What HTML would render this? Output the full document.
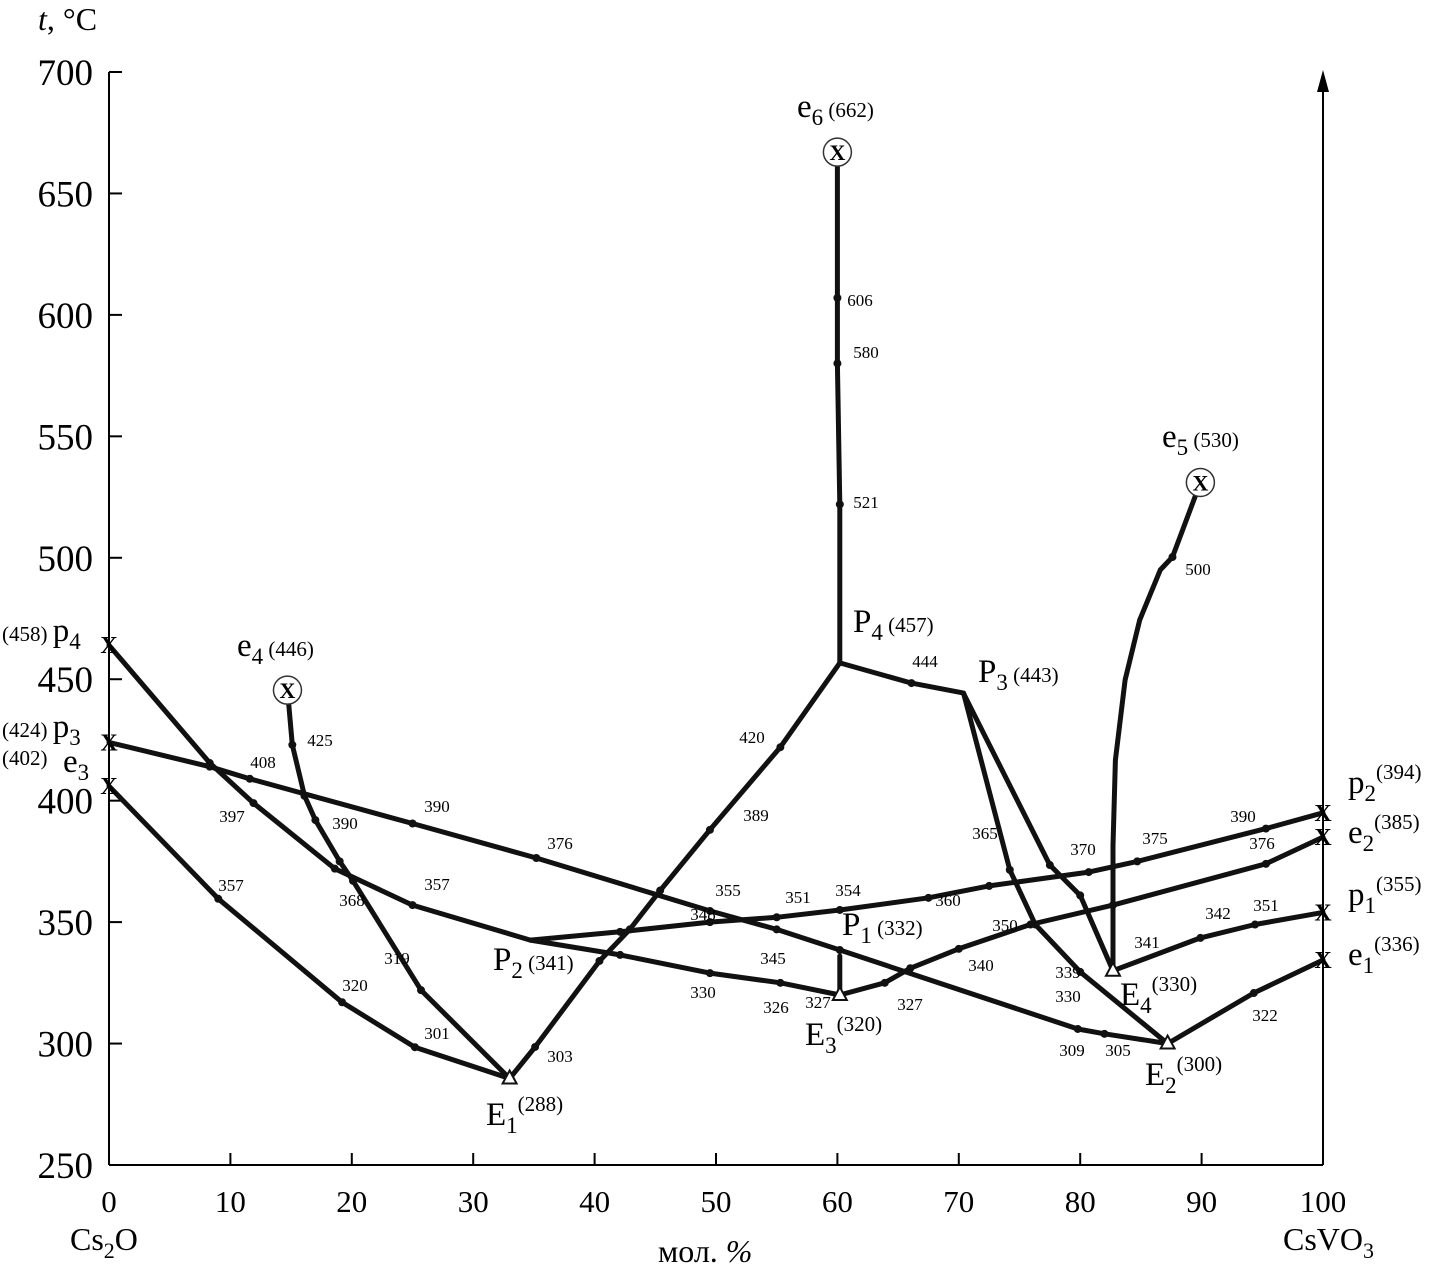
<!DOCTYPE html>
<html><head><meta charset="utf-8"><style>
body{margin:0;background:#fff}
svg{display:block;font-family:"Liberation Serif",serif}
</style></head><body>
<svg id="c" width="1440" height="1272" viewBox="0 0 1440 1272"></svg>
<script>
const xTicks=[0,10,20,30,40,50,60,70,80,90,100];
const yTicks=[250,300,350,400,450,500,550,600,650,700];
const curveNames=['e3-E1','p4-P2','p3-E2','e4-E1','E1-P4','P2-E3','P2-p2','E3-e2','P1-E3','E2-e1','E4-p1','E4-e5','P4-P3','P3-E2','P3-E4','P4-e6'];
const curveX=[
 [0,9,19.2,25.2,33],
 [0,8.3,11.9,18.6,25,34.7],
 [0,8.3,11.6,25,35.2,49.5,55,60.2,79.8,82,87.2],
 [14.7,15.1,16.1,17,19,20.1,25.7,33],
 [33,35.1,40.4,42.9,45.4,49.5,55.3,60.2],
 [34.7,42.1,49.5,55.3,60.2],
 [34.7,42.1,49.5,55,60.2,67.5,72.5,80.7,84.7,95.3,100],
 [60.2,63.9,66,70,75.9,82.7,95.3,100],
 [60.2,60.2],
 [87.2,94.3,100],
 [82.7,89.9,94.4,100],
 [82.7,82.7,82.9,83.7,84.9,86.6,87.6,89.9],
 [60.2,66.1,70.4],
 [70.4,74.2,76.3,80,87.2],
 [70.4,77.5,80,82.7],
 [60,60,60,60.2,60.2]
];
const curveY=[
 [406,359.6,317,298.5,285.6],
 [464,415.5,399,372,357,342.6],
 [424,414,409,390.6,376.4,354.6,347,338.5,306,304,300],
 [445.5,423,402,392,375,367,322,285.6],
 [285.6,298.6,334,347,363,388,422,456.7],
 [342.6,336.5,329,325,320],
 [342.6,346,350,352,355,360,364.9,370.6,375,388.5,395],
 [320,325,331,339,349,357,374,385],
 [336,320],
 [300,320.8,334.4],
 [330,343.5,349,354],
 [330,381.5,416.7,449.7,474.4,495,500.3,531],
 [456.7,448.4,444.3],
 [444,371.5,349,329.5,300],
 [444,373.5,361,330],
 [667,607,580,522,456.7]
];
const dotSkip=[11];
const ptLabels=['357','320','301','397','357','408','390','376','355','327','309','305','425','390','368','319','303','389','420','330','326','348','351','354','360','365','370','375','390','345','327','340','350','376','322','342','351','341','500','444','606','580','521','339','330'];
const ptLabelPos=[[231,885],[355,985],[437,1033],[232,816],[437,884],[263,762],[437,806],[560,843],[728,890],[818,1002],[1072,1050],[1118,1050],[320,740],[345,823],[352,900],[397,958],[560,1056],[756,815],[752,737],[703,992],[776,1007],[703,914],[798,897],[848,890],[948,900],[985,833],[1083,849],[1155,838],[1243,816],[773,958],[910,1004],[981,965],[1005,925],[1262,843],[1265,1015],[1218,913],[1266,905],[1147,942],[1198,569],[925,661],[860,300],[866,352],[866,502],[1068,972],[1068,996]];
const bigLabels=[
 ['e','6',' (662)',797,117],['e','5','  (530)',1162,447],['e','4',' (446)',237,656],
 ['P','4',' (457)',853,632],['P','3',' (443)',978,682],['P','2',' (341)',493,970],['P','1',' (332)',842,935],
 ['E','1','(288)',486,1125],['E','3','(320)',805,1045],['E','4','(330)',1120,1005],['E','2','(300)',1145,1085],
 ['p','2','(394)',1348,793],['e','2','(385)',1348,843],['p','1','(355)',1348,905],['e','1','(336)',1348,965]
];
const X0=109,X1=1323,Y0=1165,Y1=72;
const sx=v=>X0+(X1-X0)*v/100;
const sy=v=>Y0-(Y0-Y1)*(v-250)/450;
const svg=document.getElementById('c');
const NS='http://www.w3.org/2000/svg';
function mk(t,a,p){const e=document.createElementNS(NS,t);for(const k in a)e.setAttribute(k,a[k]);(p||svg).appendChild(e);return e;}
let ax=mk('line',{x1:X0,y1:Y0,x2:X0,y2:Y1,stroke:'#000','stroke-width':2});


let bx=mk('line',{x1:X0,y1:Y0,x2:X1,y2:Y0,stroke:'#000','stroke-width':2});


let rx=mk('line',{x1:X1,y1:Y0,x2:X1,y2:80,stroke:'#000','stroke-width':2});


let ar=mk('path',{d:`M${X1-6},92 L${X1},70 L${X1+6},92 Z`,fill:'#000'});


yTicks.forEach(v=>{
 const y=sy(v);
 const t=mk('line',{x1:X0,y1:y,x2:X0+13,y2:y,stroke:'#000','stroke-width':2});
 
 
 const l=mk('text',{x:93,y:y+13,'text-anchor':'end','font-size':37});
 l.textContent=v;
 
 
});
xTicks.forEach(v=>{
 const x=sx(v);
 const t=mk('line',{x1:x,y1:Y0,x2:x,y2:Y0-12,stroke:'#000','stroke-width':2});
 
 
 const l=mk('text',{x:x,y:1212,'text-anchor':'middle','font-size':31});
 l.textContent=v;
 
 
});
curveX.forEach((xs,i)=>{
 const d=xs.map((x,j)=>(j?'L':'M')+sx(x).toFixed(1)+','+sy(curveY[i][j]).toFixed(1)).join(' ');
 const p=mk('path',{d:d,fill:'none',stroke:'#111','stroke-width':5,'stroke-linejoin':'round','stroke-linecap':'round'});
 
 
 xs.forEach((x,j)=>{if(j>0&&j<xs.length-1&&(dotSkip.indexOf(i)<0||j===6)){const c=mk('circle',{cx:sx(x),cy:sy(curveY[i][j]),r:4,fill:'#111'});
  
  }});
});
[[14.7,445.5],[60,667],[89.9,531]].forEach(p=>{
 const c=mk('circle',{cx:sx(p[0]),cy:sy(p[1]),r:14,fill:'#fff',stroke:'#333','stroke-width':1.5});
 
 
 const t=mk('text',{x:sx(p[0]),y:sy(p[1])+8,'text-anchor':'middle','font-size':22,'font-weight':'bold'});
 t.textContent='X';
 
 
});
[[33,285.6],[87.2,300],[60.2,320],[82.7,330]].forEach(p=>{
 const x=sx(p[0]),y=sy(p[1]);
 const t=mk('path',{d:`M${x-7},${y+5} L${x},${y-8} L${x+7},${y+5} Z`,fill:'#fff',stroke:'#111','stroke-width':2});
 
 
});
[[0,464],[0,424],[0,406],[100,395],[100,385],[100,354],[100,334.4]].forEach(p=>{
 const t=mk('text',{x:sx(p[0]),y:sy(p[1])+8,'text-anchor':'middle','font-size':24,'font-weight':'bold'});
 t.textContent='X';
 
 
});
ptLabels.forEach((s,i)=>{
 const t=mk('text',{x:ptLabelPos[i][0],y:ptLabelPos[i][1]+6,'text-anchor':'middle','font-size':17});
 t.textContent=s;
 
 
});
bigLabels.forEach(b=>{
 const t=mk('text',{x:b[3],y:b[4],'font-size':33});
 
 
 const a=mk('tspan',{},t);a.textContent=b[0];
 const s=mk('tspan',{'font-size':23,dy:8},t);s.textContent=b[1];
 const c=mk('tspan',{'font-size':21,dy:(b[0]==='E'||b[3]>1300)?-22:-8},t);c.textContent=b[2];
});
function leftLab(txt,big,sub,x,y,name){
 const t=mk('text',{x:x,y:y,'font-size':21});
 
 
 t.textContent=txt;
 if(big){const a=mk('tspan',{'font-size':33},t);a.textContent=big;const s=mk('tspan',{'font-size':23,dy:8},t);s.textContent=sub;}
}
leftLab('(458) ',' p','4',2,641,'p4-label');
leftLab('(424) ',' p','3',2,737,'p3-label');
leftLab('(402)','','',2,765,'e3-value-label');
const e3=mk('text',{x:63,y:772,'font-size':33});


e3.innerHTML='e<tspan font-size="23" dy="8">3</tspan>';
const tt=mk('text',{x:38,y:30,'font-size':32});


tt.innerHTML='<tspan font-style="italic">t</tspan>, °C';
const l1=mk('text',{x:70,y:1250,'font-size':32});


l1.innerHTML='Cs<tspan font-size="22" dy="8">2</tspan><tspan dy="-8">O</tspan>';
const l2=mk('text',{x:1283,y:1250,'font-size':32});


l2.innerHTML='CsVO<tspan font-size="22" dy="8">3</tspan>';
const xt=mk('text',{x:658,y:1262,'font-size':32});


xt.innerHTML='мол. <tspan font-style="italic">%</tspan>';
</script>
</body></html>
